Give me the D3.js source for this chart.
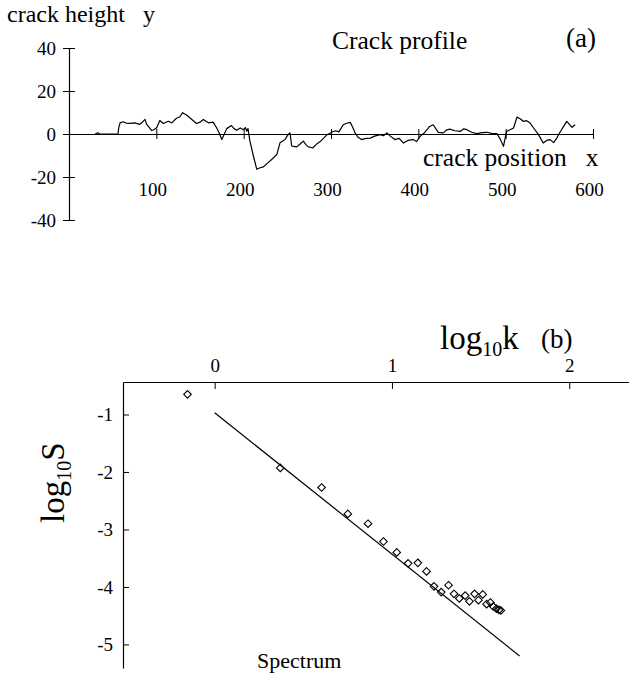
<!DOCTYPE html>
<html>
<head>
<meta charset="utf-8">
<script src="https://cdn.jsdelivr.net/npm/d3@7"></script>
<style>
  html, body { margin: 0; padding: 0; background: #fff; }
  svg { display: block; }
  svg text { font-family: "Liberation Serif", "Times New Roman", serif !important; fill: #000; }
</style>
</head>
<body>
<svg id="chart" width="629" height="677"></svg>
<script>
// ---------- Panel (a): crack profile ----------
const profileX = [30,33,35,56,57,58.5,62,66,70,75,81,84,87,89,92,94.7,97,100.4,104,108,113.7,117.6,123,127,130,134.6,140,146,150,153.8,159.6,165,169,172,175,180.6,186,189,192,196,199.7,202,203.5,205,207,211,215,218,222.6,228,233,238,241.7,244,247.4,251,253,255,257,260.8,265,268.4,271,274,279,284,288,295,301,305,309,314,318,322,325,327.6,331,335,340,345,350,356,360,364,368,373,378,383,388,394,398,402,406,410,413,417,420,423,428.7,432,436,442,448,452,455.6,461,467,473,478.5,484,490,494,497.5,501,505,509,513,517,520,524,528,532,537.6,543,547,551,555,558.5,561,564,567,570,573,576,579.6];
const profileY = [0,0.6,0,0,3,5.2,5.7,5.0,4.9,5.2,4.5,5.5,6.8,4.5,3.0,1.6,2.0,2.9,6.3,4.9,5.9,5.2,7.3,8.0,9.9,8.8,7.0,4.9,5.5,6.7,5.2,5.5,2.9,0.5,-2.6,2.5,3.9,2.5,1.7,2.8,2.0,3.0,1.3,2.5,-3,-10,-16.4,-15.8,-15.3,-13.3,-11.5,-9.5,-4,-3.5,-2.5,-0.2,0.5,-5.6,-5.8,-6,-4.5,-3.3,-4.8,-6,-6.5,-4.5,-3.4,-0.5,0.8,1.5,1.0,4.3,5.0,5.4,3.0,0.5,-1.5,-2.6,-2.0,-1.9,-1.0,-0.3,-0.8,0.5,-1.0,-2.6,-2.0,-4.2,-3.0,-2.6,-3.5,-1.1,0.2,2.0,3.5,4.3,2.5,0.8,0.5,1.8,2.3,1.5,1.2,2.4,2.0,0.8,0.2,0.6,0.8,0.3,0.2,-2.5,-5.7,1.2,2.0,2.8,7.9,7.0,5.9,6.2,5.1,2.8,-0.3,-4.2,-3.0,-2.6,-4.0,-1.9,0,2.0,4.0,5.9,4.5,3.1,4.3];
const profileXTicks = [100,200,300,400,500,600];
const profileYTicks = [-40,-20,0,20,40];

// ---------- Panel (b): spectrum ----------
const specX = [-0.153,0.37,0.603,0.751,0.865,0.952,1.027,1.091,1.146,1.195,1.237,1.278,1.319,1.35,1.38,1.413,1.437,1.466,1.488,1.512,1.534,1.555,1.571,1.589,1.604,1.614];
const specY = [-0.65,-1.93,-2.27,-2.73,-2.9,-3.21,-3.4,-3.59,-3.58,-3.73,-3.99,-4.09,-3.97,-4.12,-4.2,-4.15,-4.25,-4.12,-4.23,-4.13,-4.3,-4.27,-4.34,-4.38,-4.4,-4.41];
const fitX = [0, 1.72];
const fitY = [-0.97, -5.2];
const specXTicks = [0,1,2];
const specYTicks = [-1,-2,-3,-4,-5];

const SERIF = '"Liberation Serif", "Times New Roman", serif';
const svg = d3.select("#chart");

// ===== Panel (a) =====
const xA = d3.scaleLinear().domain([0,600]).range([69,593]);
const yA = d3.scaleLinear().domain([-40,40]).range([220,48]);

const gyA = svg.append("g").attr("transform", `translate(${xA(0)},0)`)
  .call(d3.axisLeft(yA).tickValues(profileYTicks).tickSizeOuter(0).tickSizeInner(6).tickPadding(8)
    .tickFormat(d => String(d)));
gyA.attr("font-family", SERIF);
gyA.selectAll(".tick line").attr("x1", -6).attr("x2", 6);
gyA.select(".domain").attr("stroke-width", 1.2);
gyA.selectAll(".tick text").attr("font-size", 19).attr("x", -13);

const gxA = svg.append("g").attr("transform", `translate(0,${yA(0)})`)
  .call(d3.axisBottom(xA).tickValues(profileXTicks).tickSizeOuter(0).tickSizeInner(5)
    .tickFormat(d => String(d)));
gxA.attr("font-family", SERIF);
gxA.selectAll(".tick line").attr("y1", -5).attr("y2", 5);
gxA.select(".domain").attr("stroke-width", 1.2);
gxA.selectAll(".tick text").attr("font-size", 19)
  .attr("y", 0).attr("dy", 0).attr("transform", "translate(-4,62)");

svg.append("path")
  .datum(profileX.map((x,i) => [x, profileY[i]]))
  .attr("fill", "none").attr("stroke", "#000").attr("stroke-width", 1.2)
  .attr("stroke-linejoin", "round")
  .attr("d", d3.line().x(d => xA(d[0])).y(d => yA(d[1])));

svg.append("text").attr("x", 7).attr("y", 22).attr("font-size", 24).attr("xml:space","preserve").text("crack height   y");
svg.append("text").attr("x", 332).attr("y", 49).attr("font-size", 25.5).text("Crack profile");
svg.append("text").attr("x", 566).attr("y", 47).attr("font-size", 27).text("(a)");
svg.append("text").attr("x", 423).attr("y", 166).attr("font-size", 25.5).attr("xml:space","preserve").text("crack position   x");

// ===== Panel (b) =====
const xB = d3.scaleLinear().domain([-0.517, 2.337]).range([123, 629]);
const yB = d3.scaleLinear().domain([-5.41, -0.435]).range([668, 382]);

const gxB = svg.append("g").attr("transform", `translate(0,${yB(-0.435)})`)
  .call(d3.axisTop(xB).tickValues(specXTicks).tickSizeOuter(0).tickSizeInner(-7).tickPadding(10)
    .tickFormat(d => String(d)));
gxB.attr("font-family", SERIF);
gxB.select(".domain").attr("stroke-width", 1.2);
gxB.selectAll(".tick text").attr("font-size", 19);

const gyB = svg.append("g").attr("transform", `translate(${xB(-0.517)},0)`)
  .call(d3.axisLeft(yB).tickValues(specYTicks).tickSizeOuter(0).tickSizeInner(-6).tickPadding(10)
    .tickFormat(d => String(d)));
gyB.attr("font-family", SERIF);
gyB.select(".domain").attr("stroke-width", 1.2);
gyB.selectAll(".tick text").attr("font-size", 19);

svg.append("path")
  .datum(fitX.map((x,i) => [x, fitY[i]]))
  .attr("fill", "none").attr("stroke", "#000").attr("stroke-width", 1.2)
  .attr("d", d3.line().x(d => xB(d[0])).y(d => yB(d[1])));

const r = 3.8;
svg.append("g").selectAll("path.pt")
  .data(specX.map((x,i) => [x, specY[i]]))
  .join("path").attr("class","pt")
  .attr("transform", d => `translate(${xB(d[0])},${yB(d[1])})`)
  .attr("d", `M0,${-r}L${r},0L0,${r}L${-r},0Z`)
  .attr("fill", "none").attr("stroke", "#000").attr("stroke-width", 1.1);

const lk = svg.append("text").attr("x", 440).attr("y", 349).attr("font-size", 33);
lk.append("tspan").text("log");
lk.append("tspan").attr("font-size", 20).attr("dy", 7).text("10");
lk.append("tspan").attr("dy", -7).text("k");

svg.append("text").attr("x", 541).attr("y", 348).attr("font-size", 27).text("(b)");

const ls = svg.append("text").attr("transform", "translate(64,523) rotate(-90)").attr("font-size", 33);
ls.append("tspan").text("log");
ls.append("tspan").attr("font-size", 20).attr("dy", 7).text("10");
ls.append("tspan").attr("dy", -7).text("S");

svg.append("text").attr("x", 257).attr("y", 668).attr("font-size", 22).text("Spectrum");
</script>
</body>
</html>
